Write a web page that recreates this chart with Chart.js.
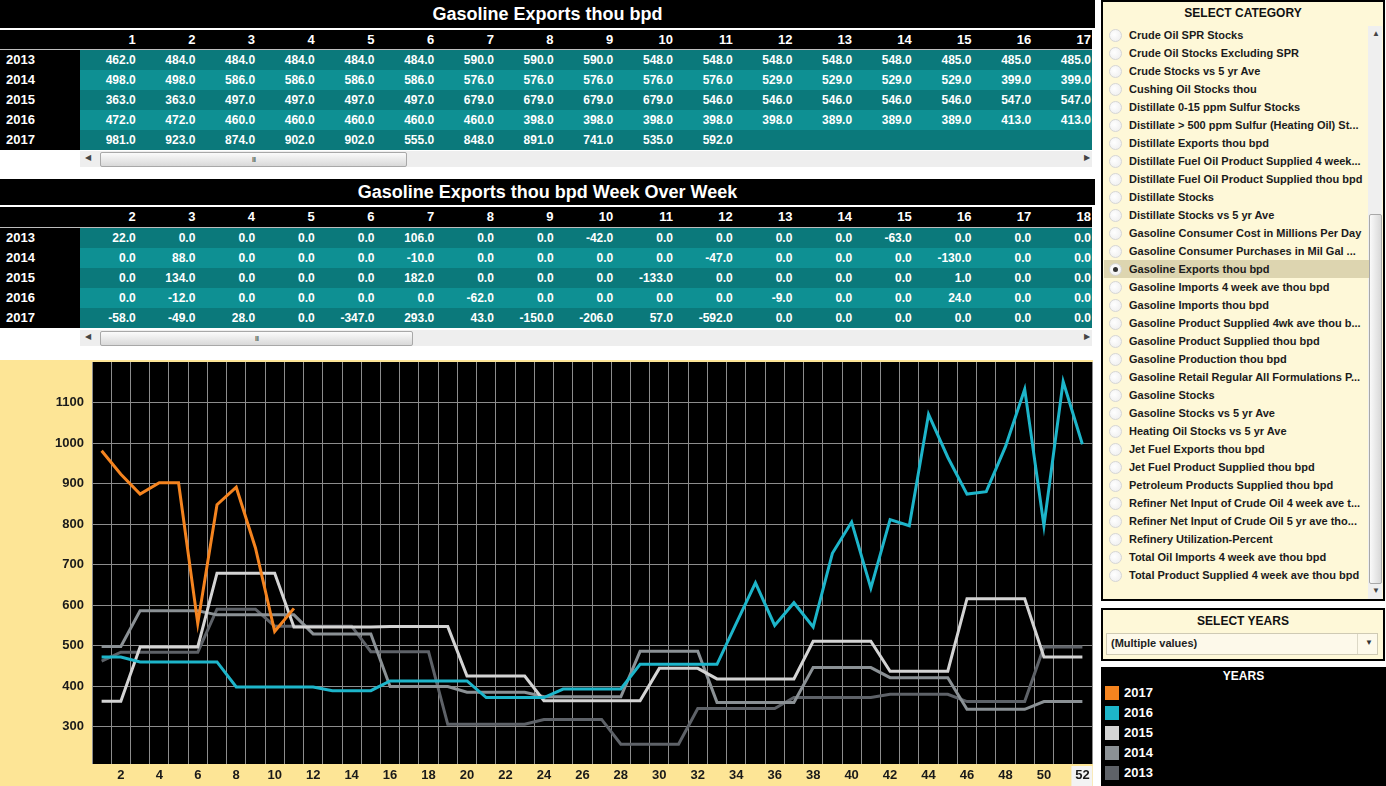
<!DOCTYPE html>
<html>
<head>
<meta charset="utf-8">
<title>Gasoline Exports thou bpd</title>
<script src="https://cdn.jsdelivr.net/npm/chart.js@4.4.0/dist/chart.umd.min.js"></script>
<style>
    body {
        margin: 0;
        width: 1386px;
        height: 786px;
        overflow: hidden;
        background: #fff;
        font-family: "Liberation Sans", Arial, sans-serif;
        position: relative;
    }
    .abs { position: absolute; }
    .titlebar {
        left: 0; width: 1095px;
        background: #000; color: #fff;
        font-weight: bold; font-size: 18px;
        text-align: center;
    }
    .tblwrap { left: 0; width: 1092px; overflow: hidden; }
    .row {
        position: absolute; left: 0; width: 1200px; height: 20px;
        line-height: 20px; color: #fff; font-weight: bold; white-space: nowrap;
    }
    .row span { position: absolute; top: 0; text-align: right; }
    .yearcell { position: absolute; left: 0; top: 0; width: 80px; height: 100%; background: #000; }
    .yearcell b { position: absolute; left: 6px; font-size: 13px; }
    .scroll { left: 80px; width: 1012px; height: 16px; background: #eeeeee; }
    .thumb {
        position: absolute; top: 1px; height: 13px;
        border: 1px solid #a8a8a8; border-radius: 2px;
        background: linear-gradient(#fbfbfb, #d9d9d9);
        text-align: center; font-size: 8px; line-height: 13px; color: #555; letter-spacing: -1px;
    }
    .arrow { position: absolute; top: 2px; font-size: 8px; color: #444; }
    .panel { background: #fef8d8; border: 2px solid #000; box-sizing: border-box; }
    .panel .hd { position: absolute; left: 0; width: 100%; text-align: center; font-weight: bold; font-size: 12px; color: #111; }
    .item { position: absolute; left: 1px; width: 265px; height: 18px; line-height: 18px; font-size: 11px; font-weight: bold; color: #1b1b1b; white-space: nowrap; }
    .item.sel { background: #ddd5b0; }
    .radio {
        position: absolute; left: 5px; top: 3px; width: 11px; height: 11px; border-radius: 50%;
        border: 1px solid #d6d6d6; background: radial-gradient(circle at 40% 40%, #fff, #ececec);
    }
    .radio.on::after { content: ""; position: absolute; left: 3px; top: 3px; width: 5px; height: 5px; border-radius: 50%; background: #333; }
    .item .lbl { position: absolute; left: 25px; }
    .legend { background: #000; }
    .legend .hd { position: absolute; left: 0; width: 100%; text-align: center; font-weight: bold; font-size: 12px; color: #fff; }
    .leg { position: absolute; left: 4px; height: 20px; line-height: 20px; font-size: 13px; font-weight: bold; color: #fff; }
    .leg i { position: absolute; left: 0; top: 3px; width: 14px; height: 14px; }
    .leg span { position: absolute; left: 19px; }
</style>
</head>
<body>

<div id="t1title" class="abs titlebar" style="top:0;height:28px;line-height:28px;">Gasoline Exports thou bpd</div>
<div id="t1" class="abs tblwrap" style="top:30px;height:120px;"></div>
<div class="abs scroll" style="top:151px;">
    <span class="arrow" style="left:5px;">&#9664;</span>
    <div class="thumb" style="left:20px;width:305px;">III</div>
    <span class="arrow" style="left:1004px;">&#9654;</span>
</div>

<div id="t2title" class="abs titlebar" style="top:179px;height:26px;line-height:26px;">Gasoline Exports thou bpd Week Over Week</div>
<div id="t2" class="abs tblwrap" style="top:207px;height:122px;"></div>
<div class="abs scroll" style="top:330px;">
    <span class="arrow" style="left:5px;">&#9664;</span>
    <div class="thumb" style="left:20px;width:311px;">III</div>
    <span class="arrow" style="left:1004px;">&#9654;</span>
</div>

<div class="abs" style="left:0;top:360px;width:1093px;height:426px;background:#fde596;">
    <canvas id="exportsChart" width="1093" height="426"></canvas>
</div>

<div id="catPanel" class="abs panel" style="left:1101px;top:0;width:284px;height:601px;">
    <div class="hd" style="top:4px;">SELECT CATEGORY</div>
    <div class="abs" style="left:265px;top:24px;width:14px;height:573px;background:#efefef;">
        <span class="arrow" style="left:4px;top:3px;">&#9650;</span>
        <div class="abs" style="left:1px;top:188px;width:11px;height:368px;border:1px solid #a8a8a8;border-radius:2px;background:linear-gradient(90deg,#fafafa,#d8d8d8);"></div>
        <span class="arrow" style="left:4px;top:560px;">&#9660;</span>
    </div>
</div>

<div class="abs panel" style="left:1101px;top:608px;width:284px;height:53px;">
    <div class="hd" style="top:4px;">SELECT YEARS</div>
    <div class="abs" style="left:3px;top:23px;width:272px;height:22px;background:#fdf9ea;border:1px solid #cfcab4;box-sizing:border-box;">
        <span class="abs" style="left:4px;top:3px;font-size:11px;font-weight:bold;color:#222;">(Multiple values)</span>
        <span class="abs" style="left:250px;top:0;width:1px;height:20px;background:#dcd8c6;"></span>
        <span class="abs" style="left:258px;top:4px;font-size:8px;color:#333;">&#9660;</span>
    </div>
</div>

<div id="legend" class="abs legend" style="left:1101px;top:667px;width:285px;height:119px;">
    <div class="hd" style="top:2px;">YEARS</div>
</div>

<script>
// ---- data ----
const years = ['2013', '2014', '2015', '2016', '2017'];
const weekLabels = Array.from({length: 52}, (_, i) => String(i + 1));
const yTickValues = [300, 400, 500, 600, 700, 800, 900, 1000, 1100];

const exports2013 = [462, 484, 484, 484, 484, 484, 590, 590, 590, 548, 548, 548, 548, 548, 485, 485, 485,
    485, 306, 306, 306, 306, 306, 318, 318, 318, 318, 257, 257, 257, 257, 345, 345, 345, 345, 345,
    372, 372, 372, 372, 372, 380, 380, 380, 380, 362, 362, 362, 362, 497, 497, 497];
const exports2014 = [498, 498, 586, 586, 586, 586, 576, 576, 576, 576, 576, 529, 529, 529, 529, 399, 399,
    399, 399, 385, 385, 385, 385, 374, 374, 374, 374, 374, 486, 486, 486, 486, 360, 360, 360, 360,
    360, 446, 446, 446, 446, 421, 421, 421, 421, 343, 343, 343, 343, 362, 362, 362];
const exports2015 = [363, 363, 497, 497, 497, 497, 679, 679, 679, 679, 546, 546, 546, 546, 546, 547, 547,
    547, 547, 425, 425, 425, 425, 364, 364, 364, 364, 364, 364, 444, 444, 444, 418, 418, 418, 418,
    418, 511, 511, 511, 511, 437, 437, 437, 437, 616, 616, 616, 616, 472, 472, 472];
const exports2016 = [472, 472, 460, 460, 460, 460, 460, 398, 398, 398, 398, 398, 389, 389, 389, 413, 413,
    413, 413, 413, 372, 372, 372, 372, 393, 393, 393, 393, 454, 454, 454, 454, 454, 555, 655, 550,
    606, 546, 728, 805, 642, 811, 796, 1071, 965, 874, 880, 991, 1133, 796, 1152, 997];
const exports2017 = [981, 923, 874, 902, 902, 555, 848, 891, 741, 535, 592,
    null, null, null, null, null, null, null, null, null, null, null, null, null, null, null, null,
    null, null, null, null, null, null, null, null, null, null, null, null, null, null, null, null,
    null, null, null, null, null, null, null, null, null];

// week-over-week table (weeks 2..18)
const wowWeeks = ['2', '3', '4', '5', '6', '7', '8', '9', '10', '11', '12', '13', '14', '15', '16', '17', '18'];
const wow2013 = [22, 0, 0, 0, 0, 106, 0, 0, -42, 0, 0, 0, 0, -63, 0, 0, 0];
const wow2014 = [0, 88, 0, 0, 0, -10, 0, 0, 0, 0, -47, 0, 0, 0, -130, 0, 0];
const wow2015 = [0, 134, 0, 0, 0, 182, 0, 0, 0, -133, 0, 0, 0, 0, 1, 0, 0];
const wow2016 = [0, -12, 0, 0, 0, 0, -62, 0, 0, 0, 0, -9, 0, 0, 24, 0, 0];
const wow2017 = [-58, -49, 28, 0, -347, 293, 43, -150, -206, 57, -592, 0, 0, 0, 0, 0, 0];

const yearColors = {
    '2017': '#f5841f',
    '2016': '#1db5ca',
    '2015': '#d4d4d4',
    '2014': '#8b9195',
    '2013': '#5e6268'
};

const categories = [
    'Crude Oil SPR Stocks', 'Crude Oil Stocks Excluding SPR', 'Crude Stocks vs 5 yr Ave',
    'Cushing Oil Stocks thou', 'Distillate 0-15 ppm Sulfur Stocks',
    'Distillate > 500 ppm Sulfur (Heating Oil) St...', 'Distillate Exports thou bpd',
    'Distillate Fuel Oil Product Supplied 4 week...', 'Distillate Fuel Oil Product Supplied thou bpd',
    'Distillate Stocks', 'Distillate Stocks vs 5 yr Ave', 'Gasoline Consumer Cost in Millions Per Day',
    'Gasoline Consumer Purchases in Mil Gal ...', 'Gasoline Exports thou bpd',
    'Gasoline Imports 4 week ave thou bpd', 'Gasoline Imports thou bpd',
    'Gasoline Product Supplied 4wk ave thou b...', 'Gasoline Product Supplied thou bpd',
    'Gasoline Production thou bpd', 'Gasoline Retail Regular All Formulations P...',
    'Gasoline Stocks', 'Gasoline Stocks vs 5 yr Ave', 'Heating Oil Stocks vs 5 yr Ave',
    'Jet Fuel Exports thou bpd', 'Jet Fuel Product Supplied thou bpd',
    'Petroleum Products Supplied thou bpd', 'Refiner Net Input of Crude Oil 4 week ave t...',
    'Refiner Net Input of Crude Oil 5 yr ave tho...', 'Refinery Utilization-Percent',
    'Total Oil Imports 4 week ave thou bpd', 'Total Product Supplied 4 week ave thou bpd'
];
const selectedCategory = 'Gasoline Exports thou bpd';

const FONT = '"Liberation Sans", Arial, sans-serif';

/**
 * Build one of the crosstab tables (header row + one row per year)
 */
function buildTable(el, headers, rows, headerHeight) {
    const colW = 59.7;
    const header = document.createElement('div');
    header.className = 'row';
    header.style.top = '0px';
    header.style.height = headerHeight + 'px';
    header.style.lineHeight = headerHeight + 'px';
    header.style.background = '#000';
    header.style.borderBottom = '1px solid #bdbdbd';
    header.style.fontSize = '13px';
    headers.forEach((h, i) => {
        const s = document.createElement('span');
        s.style.left = (80 + i * colW) + 'px';
        s.style.width = (colW - 4) + 'px';
        s.textContent = h;
        header.appendChild(s);
    });
    el.appendChild(header);

    rows.forEach((r, ri) => {
        const row = document.createElement('div');
        row.className = 'row';
        row.style.top = (headerHeight + 1 + ri * 20) + 'px';
        row.style.background = ri % 2 === 0 ? '#0b797b' : '#0e9093';
        row.style.fontSize = '12px';
        const yc = document.createElement('div');
        yc.className = 'yearcell';
        yc.innerHTML = '<b>' + r.year + '</b>';
        row.appendChild(yc);
        r.values.forEach((v, i) => {
            if (v === null) return;
            const s = document.createElement('span');
            s.style.left = (80 + i * colW) + 'px';
            s.style.width = (colW - 4) + 'px';
            s.textContent = v.toFixed(1);
            row.appendChild(s);
        });
        el.appendChild(row);
    });
}

const seriesByYear = {
    '2013': exports2013, '2014': exports2014, '2015': exports2015,
    '2016': exports2016, '2017': exports2017
};
const wowByYear = {
    '2013': wow2013, '2014': wow2014, '2015': wow2015, '2016': wow2016, '2017': wow2017
};

buildTable(document.getElementById('t1'), weekLabels.slice(0, 17),
    years.map(y => ({year: y, values: seriesByYear[y].slice(0, 17)})), 19);
buildTable(document.getElementById('t2'), wowWeeks,
    years.map(y => ({year: y, values: wowByYear[y]})), 20);

// category list
const catPanel = document.getElementById('catPanel');
categories.forEach((c, i) => {
    const it = document.createElement('div');
    it.className = 'item' + (c === selectedCategory ? ' sel' : '');
    it.style.top = (24 + i * 18) + 'px';
    it.innerHTML = '<span class="radio' + (c === selectedCategory ? ' on' : '') + '"></span><span class="lbl"></span>';
    it.querySelector('.lbl').textContent = c;
    catPanel.appendChild(it);
});

// years legend
const legend = document.getElementById('legend');
years.slice().reverse().forEach((y, i) => {
    const d = document.createElement('div');
    d.className = 'leg';
    d.style.top = (16 + i * 20) + 'px';
    d.innerHTML = '<i style="background:' + yearColors[y] + '"></i><span>' + y + '</span>';
    legend.appendChild(d);
});

/**
 * Black plot area + highlighted last week label
 */
const plotBackground = {
    id: 'plotBackground',
    beforeDraw(chart) {
        const {ctx, chartArea} = chart;
        ctx.save();
        ctx.fillStyle = '#000';
        ctx.fillRect(chartArea.left, chartArea.top, chartArea.right - chartArea.left, chartArea.bottom - chartArea.top);
        const x = chart.scales.x.getPixelForValue(51);
        ctx.fillStyle = '#f3f3f3';
        ctx.fillRect(x - 11, chartArea.bottom + 2, 21, chart.height - chartArea.bottom - 2);
        ctx.restore();
    }
};

const ctx = document.getElementById('exportsChart');
new Chart(ctx.getContext('2d'), {
    type: 'line',
    data: {
        labels: weekLabels,
        datasets: years.slice().reverse().map(y => ({
            label: y,
            data: seriesByYear[y],
            borderColor: yearColors[y],
            backgroundColor: yearColors[y],
            borderWidth: 3,
            pointRadius: 0,
            tension: 0,
            spanGaps: false
        }))
    },
    options: {
        responsive: false,
        animation: false,
        layout: {padding: {top: 2, right: 1, left: 0, bottom: 0}},
        plugins: {
            legend: {display: false},
            tooltip: {enabled: false}
        },
        scales: {
            x: {
                type: 'category',
                offset: true,
                grid: {offset: true, color: '#8c8c8c', lineWidth: 1, drawTicks: false},
                border: {display: false},
                ticks: {
                    autoSkip: false,
                    maxRotation: 0,
                    padding: 4,
                    color: '#1a1a1a',
                    font: {family: FONT, size: 13, weight: 'bold'},
                    callback: function(value, index) {
                        return (index + 1) % 2 === 0 ? this.getLabelForValue(value) : '';
                    }
                },
                afterFit: function(scale) {
                    scale.height = 22;
                    scale.paddingLeft = 0;
                    scale.paddingRight = 0;
                }
            },
            y: {
                min: 208,
                max: 1200,
                grid: {color: '#8c8c8c', lineWidth: 1, drawTicks: false},
                border: {display: false},
                afterBuildTicks: function(scale) {
                    scale.ticks = yTickValues.map(v => ({value: v}));
                },
                ticks: {
                    padding: 8,
                    color: '#1a1a1a',
                    font: {family: FONT, size: 13, weight: 'bold'},
                    callback: function(value) { return String(value); }
                },
                afterFit: function(scale) {
                    scale.width = 92;
                    scale.paddingTop = 0;
                    scale.paddingBottom = 0;
                }
            }
        }
    },
    plugins: [plotBackground]
});
</script>
</body>
</html>
